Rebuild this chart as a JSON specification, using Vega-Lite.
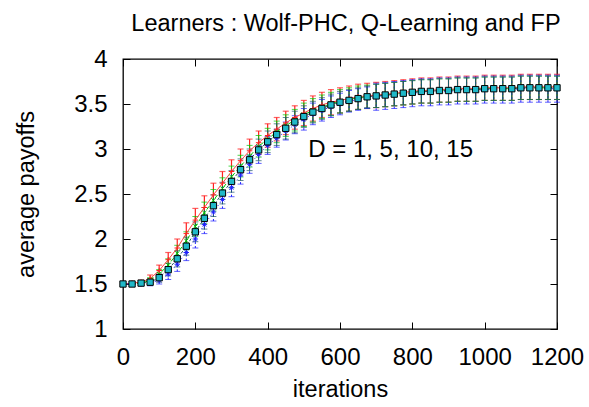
{
  "$schema": "https://vega.github.io/schema/vega-lite/v6.json",
  "width": 434,
  "height": 270,
  "autosize": {"type": "none"},
  "padding": {"left": 123, "top": 59, "right": 32, "bottom": 78},
  "background": "white",
  "title": {"text": "Learners : Wolf-PHC, Q-Learning and FP", "fontSize": 23.5, "font": "Liberation Sans", "fontWeight": "normal", "color": "black", "offset": 12, "dx": 6},
  "config": {
    "view": {"stroke": "black", "strokeWidth": 1.3},
    "axis": {"grid": false, "domain": false, "labelFont": "Liberation Sans", "labelFontSize": 24, "labelColor": "black", "titleFont": "Liberation Sans", "titleFontSize": 23.5, "titleFontWeight": "normal", "titleColor": "black", "tickColor": "black", "tickSize": -7, "tickWidth": 1}
  },
  "data": {"values": [
    {"s":"r","x":0,"m":1.50,"e":0.01},{"s":"r","x":25,"m":1.51,"e":0.01},{"s":"r","x":50,"m":1.52,"e":0.02},{"s":"r","x":75,"m":1.56,"e":0.04},{"s":"r","x":100,"m":1.65,"e":0.06},{"s":"r","x":125,"m":1.77,"e":0.08},{"s":"r","x":150,"m":1.90,"e":0.10},{"s":"r","x":175,"m":2.06,"e":0.12},{"s":"r","x":200,"m":2.21,"e":0.13},{"s":"r","x":225,"m":2.35,"e":0.13},
    {"s":"r","x":250,"m":2.49,"e":0.13},{"s":"r","x":275,"m":2.62,"e":0.13},{"s":"r","x":300,"m":2.75,"e":0.13},{"s":"r","x":325,"m":2.87,"e":0.13},{"s":"r","x":350,"m":2.98,"e":0.13},{"s":"r","x":375,"m":3.07,"e":0.13},{"s":"r","x":400,"m":3.15,"e":0.13},{"s":"r","x":425,"m":3.22,"e":0.13},{"s":"r","x":450,"m":3.29,"e":0.13},{"s":"r","x":475,"m":3.35,"e":0.13},
    {"s":"r","x":500,"m":3.40,"e":0.14},{"s":"r","x":525,"m":3.45,"e":0.14},{"s":"r","x":550,"m":3.49,"e":0.14},{"s":"r","x":575,"m":3.52,"e":0.14},{"s":"r","x":600,"m":3.54,"e":0.14},{"s":"r","x":625,"m":3.56,"e":0.14},{"s":"r","x":650,"m":3.58,"e":0.14},{"s":"r","x":675,"m":3.59,"e":0.14},{"s":"r","x":700,"m":3.60,"e":0.14},{"s":"r","x":725,"m":3.61,"e":0.14},
    {"s":"r","x":750,"m":3.62,"e":0.14},{"s":"r","x":775,"m":3.63,"e":0.14},{"s":"r","x":800,"m":3.64,"e":0.14},{"s":"r","x":825,"m":3.65,"e":0.14},{"s":"r","x":850,"m":3.65,"e":0.14},{"s":"r","x":875,"m":3.66,"e":0.14},{"s":"r","x":900,"m":3.66,"e":0.14},{"s":"r","x":925,"m":3.67,"e":0.14},{"s":"r","x":950,"m":3.67,"e":0.14},{"s":"r","x":975,"m":3.67,"e":0.14},
    {"s":"r","x":1000,"m":3.68,"e":0.14},{"s":"r","x":1025,"m":3.68,"e":0.14},{"s":"r","x":1050,"m":3.68,"e":0.14},{"s":"r","x":1075,"m":3.68,"e":0.14},{"s":"r","x":1100,"m":3.69,"e":0.14},{"s":"r","x":1125,"m":3.69,"e":0.14},{"s":"r","x":1150,"m":3.69,"e":0.14},{"s":"r","x":1175,"m":3.69,"e":0.14},{"s":"r","x":1200,"m":3.69,"e":0.14},

    {"s":"g","x":0,"m":1.50,"e":0.01},{"s":"g","x":25,"m":1.50,"e":0.01},{"s":"g","x":50,"m":1.51,"e":0.02},{"s":"g","x":75,"m":1.54,"e":0.03},{"s":"g","x":100,"m":1.61,"e":0.05},{"s":"g","x":125,"m":1.71,"e":0.07},{"s":"g","x":150,"m":1.84,"e":0.09},{"s":"g","x":175,"m":1.98,"e":0.10},{"s":"g","x":200,"m":2.14,"e":0.11},{"s":"g","x":225,"m":2.29,"e":0.12},
    {"s":"g","x":250,"m":2.43,"e":0.12},{"s":"g","x":275,"m":2.56,"e":0.12},{"s":"g","x":300,"m":2.69,"e":0.12},{"s":"g","x":325,"m":2.81,"e":0.12},{"s":"g","x":350,"m":2.92,"e":0.12},{"s":"g","x":375,"m":3.03,"e":0.12},{"s":"g","x":400,"m":3.11,"e":0.12},{"s":"g","x":425,"m":3.19,"e":0.12},{"s":"g","x":450,"m":3.26,"e":0.12},{"s":"g","x":475,"m":3.32,"e":0.12},
    {"s":"g","x":500,"m":3.38,"e":0.13},{"s":"g","x":525,"m":3.43,"e":0.13},{"s":"g","x":550,"m":3.47,"e":0.13},{"s":"g","x":575,"m":3.50,"e":0.13},{"s":"g","x":600,"m":3.53,"e":0.13},{"s":"g","x":625,"m":3.55,"e":0.13},{"s":"g","x":650,"m":3.57,"e":0.13},{"s":"g","x":675,"m":3.58,"e":0.13},{"s":"g","x":700,"m":3.59,"e":0.13},{"s":"g","x":725,"m":3.60,"e":0.13},
    {"s":"g","x":750,"m":3.61,"e":0.13},{"s":"g","x":775,"m":3.62,"e":0.13},{"s":"g","x":800,"m":3.63,"e":0.13},{"s":"g","x":825,"m":3.64,"e":0.13},{"s":"g","x":850,"m":3.64,"e":0.13},{"s":"g","x":875,"m":3.65,"e":0.13},{"s":"g","x":900,"m":3.65,"e":0.13},{"s":"g","x":925,"m":3.66,"e":0.13},{"s":"g","x":950,"m":3.66,"e":0.13},{"s":"g","x":975,"m":3.66,"e":0.13},
    {"s":"g","x":1000,"m":3.67,"e":0.13},{"s":"g","x":1025,"m":3.67,"e":0.13},{"s":"g","x":1050,"m":3.67,"e":0.13},{"s":"g","x":1075,"m":3.67,"e":0.13},{"s":"g","x":1100,"m":3.68,"e":0.13},{"s":"g","x":1125,"m":3.68,"e":0.13},{"s":"g","x":1150,"m":3.68,"e":0.13},{"s":"g","x":1175,"m":3.68,"e":0.13},{"s":"g","x":1200,"m":3.68,"e":0.13},

    {"s":"b","x":0,"m":1.50,"e":0.01},{"s":"b","x":25,"m":1.50,"e":0.01},{"s":"b","x":50,"m":1.50,"e":0.02},{"s":"b","x":75,"m":1.51,"e":0.03},{"s":"b","x":100,"m":1.54,"e":0.04},{"s":"b","x":125,"m":1.61,"e":0.06},{"s":"b","x":150,"m":1.72,"e":0.08},{"s":"b","x":175,"m":1.85,"e":0.09},{"s":"b","x":200,"m":2.00,"e":0.10},{"s":"b","x":225,"m":2.16,"e":0.10},
    {"s":"b","x":250,"m":2.30,"e":0.10},{"s":"b","x":275,"m":2.44,"e":0.10},{"s":"b","x":300,"m":2.57,"e":0.10},{"s":"b","x":325,"m":2.71,"e":0.10},{"s":"b","x":350,"m":2.83,"e":0.10},{"s":"b","x":375,"m":2.94,"e":0.10},{"s":"b","x":400,"m":3.04,"e":0.10},{"s":"b","x":425,"m":3.12,"e":0.10},{"s":"b","x":450,"m":3.20,"e":0.10},{"s":"b","x":475,"m":3.27,"e":0.10},
    {"s":"b","x":500,"m":3.33,"e":0.12},{"s":"b","x":525,"m":3.39,"e":0.12},{"s":"b","x":550,"m":3.43,"e":0.12},{"s":"b","x":575,"m":3.47,"e":0.12},{"s":"b","x":600,"m":3.50,"e":0.12},{"s":"b","x":625,"m":3.53,"e":0.12},{"s":"b","x":650,"m":3.55,"e":0.12},{"s":"b","x":675,"m":3.57,"e":0.12},{"s":"b","x":700,"m":3.58,"e":0.15},{"s":"b","x":725,"m":3.59,"e":0.15},
    {"s":"b","x":750,"m":3.60,"e":0.15},{"s":"b","x":775,"m":3.61,"e":0.15},{"s":"b","x":800,"m":3.62,"e":0.15},{"s":"b","x":825,"m":3.63,"e":0.15},{"s":"b","x":850,"m":3.63,"e":0.15},{"s":"b","x":875,"m":3.64,"e":0.15},{"s":"b","x":900,"m":3.64,"e":0.15},{"s":"b","x":925,"m":3.65,"e":0.15},{"s":"b","x":950,"m":3.65,"e":0.15},{"s":"b","x":975,"m":3.65,"e":0.15},
    {"s":"b","x":1000,"m":3.66,"e":0.15},{"s":"b","x":1025,"m":3.66,"e":0.15},{"s":"b","x":1050,"m":3.66,"e":0.15},{"s":"b","x":1075,"m":3.66,"e":0.15},{"s":"b","x":1100,"m":3.67,"e":0.15},{"s":"b","x":1125,"m":3.67,"e":0.15},{"s":"b","x":1150,"m":3.67,"e":0.15},{"s":"b","x":1175,"m":3.67,"e":0.15},{"s":"b","x":1200,"m":3.67,"e":0.15},

    {"s":"c","x":0,"m":1.50,"e":0.01},{"s":"c","x":25,"m":1.50,"e":0.01},{"s":"c","x":50,"m":1.51,"e":0.02},{"s":"c","x":75,"m":1.52,"e":0.03},{"s":"c","x":100,"m":1.57,"e":0.05},{"s":"c","x":125,"m":1.66,"e":0.07},{"s":"c","x":150,"m":1.78,"e":0.09},{"s":"c","x":175,"m":1.92,"e":0.10},{"s":"c","x":200,"m":2.08,"e":0.11},{"s":"c","x":225,"m":2.23,"e":0.12},
    {"s":"c","x":250,"m":2.37,"e":0.12},{"s":"c","x":275,"m":2.51,"e":0.12},{"s":"c","x":300,"m":2.64,"e":0.12},{"s":"c","x":325,"m":2.77,"e":0.12},{"s":"c","x":350,"m":2.88,"e":0.12},{"s":"c","x":375,"m":2.99,"e":0.12},{"s":"c","x":400,"m":3.08,"e":0.12},{"s":"c","x":425,"m":3.16,"e":0.12},{"s":"c","x":450,"m":3.23,"e":0.12},{"s":"c","x":475,"m":3.30,"e":0.12},
    {"s":"c","x":500,"m":3.36,"e":0.12},{"s":"c","x":525,"m":3.41,"e":0.12},{"s":"c","x":550,"m":3.45,"e":0.12},{"s":"c","x":575,"m":3.49,"e":0.12},{"s":"c","x":600,"m":3.52,"e":0.12},{"s":"c","x":625,"m":3.54,"e":0.12},{"s":"c","x":650,"m":3.56,"e":0.12},{"s":"c","x":675,"m":3.58,"e":0.12},{"s":"c","x":700,"m":3.59,"e":0.13},{"s":"c","x":725,"m":3.60,"e":0.13},
    {"s":"c","x":750,"m":3.61,"e":0.13},{"s":"c","x":775,"m":3.62,"e":0.13},{"s":"c","x":800,"m":3.63,"e":0.13},{"s":"c","x":825,"m":3.64,"e":0.13},{"s":"c","x":850,"m":3.64,"e":0.13},{"s":"c","x":875,"m":3.65,"e":0.13},{"s":"c","x":900,"m":3.65,"e":0.13},{"s":"c","x":925,"m":3.66,"e":0.13},{"s":"c","x":950,"m":3.66,"e":0.13},{"s":"c","x":975,"m":3.66,"e":0.13},
    {"s":"c","x":1000,"m":3.67,"e":0.13},{"s":"c","x":1025,"m":3.67,"e":0.13},{"s":"c","x":1050,"m":3.67,"e":0.13},{"s":"c","x":1075,"m":3.67,"e":0.13},{"s":"c","x":1100,"m":3.68,"e":0.13},{"s":"c","x":1125,"m":3.68,"e":0.13},{"s":"c","x":1150,"m":3.68,"e":0.13},{"s":"c","x":1175,"m":3.68,"e":0.13},{"s":"c","x":1200,"m":3.68,"e":0.13}
  ]},
  "resolve": {"axis": {"x": "independent", "y": "independent"}},
  "layer": [
    {
      "transform": [{"filter": {"field": "s", "equal": "r"}}],
      "mark": {"type": "errorbar", "ticks": {"size": 6}, "thickness": 1.2},
      "encoding": {
        "x": {"field": "x", "type": "quantitative", "scale": {"domain": [0, 1200], "nice": false},
              "axis": {"orient": "bottom", "values": [0, 200, 400, 600, 800, 1000, 1200], "format": "d", "title": "iterations", "labelPadding": 23, "titlePadding": 8, "labelFlush": false}},
        "y": {"field": "m", "type": "quantitative", "scale": {"domain": [1, 4], "nice": false, "zero": false},
              "axis": {"orient": "left", "values": [1, 1.5, 2, 2.5, 3, 3.5, 4], "format": "~g", "title": "average payoffs", "labelPadding": 23, "titlePadding": 35, "labelFlush": false}},
        "yError": {"field": "e"},
        "color": {"field": "s", "type": "nominal", "scale": {"domain": ["r", "g", "b", "c"], "range": ["#ff2020", "#00c800", "#2020ff", "#1f5a66"]}, "legend": null}
      }
    },
    {
      "transform": [{"filter": {"field": "s", "equal": "g"}}],
      "mark": {"type": "errorbar", "ticks": {"size": 6}, "thickness": 1},
      "encoding": {
        "x": {"field": "x", "type": "quantitative", "axis": null},
        "y": {"field": "m", "type": "quantitative", "axis": null},
        "yError": {"field": "e"},
        "color": {"field": "s", "type": "nominal", "legend": null}
      }
    },
    {
      "transform": [{"filter": {"field": "s", "equal": "b"}}],
      "mark": {"type": "errorbar", "ticks": {"size": 6, "strokeDash": [2, 2]}, "rule": {"strokeDash": [2, 2]}, "thickness": 1},
      "encoding": {
        "x": {"field": "x", "type": "quantitative", "axis": null},
        "y": {"field": "m", "type": "quantitative", "axis": null},
        "yError": {"field": "e"},
        "color": {"field": "s", "type": "nominal", "legend": null}
      }
    },
    {
      "transform": [{"filter": {"field": "s", "equal": "c"}}],
      "mark": {"type": "errorbar", "ticks": {"size": 6}, "thickness": 1},
      "encoding": {
        "x": {"field": "x", "type": "quantitative", "axis": null},
        "y": {"field": "m", "type": "quantitative", "axis": null},
        "yError": {"field": "e"},
        "color": {"field": "s", "type": "nominal", "legend": null}
      }
    },
    {
      "mark": {"type": "line", "strokeWidth": 1},
      "encoding": {
        "x": {"field": "x", "type": "quantitative", "axis": null},
        "y": {"field": "m", "type": "quantitative", "axis": null},
        "color": {"field": "s", "type": "nominal", "scale": {"domain": ["r", "g", "b", "c"], "range": ["#ff2020", "#00c800", "#2020ff", "#20b8c8"]}, "legend": null},
        "strokeDash": {"field": "s", "type": "nominal", "scale": {"domain": ["r", "g", "b", "c"], "range": [[1, 0], [4, 3], [1, 3], [3, 2]]}, "legend": null}
      }
    },
    {
      "transform": [{"filter": {"field": "s", "oneOf": ["r", "g", "b"]}}],
      "mark": {"type": "point", "filled": false, "strokeWidth": 1, "size": 30, "opacity": 1},
      "encoding": {
        "x": {"field": "x", "type": "quantitative", "axis": null},
        "y": {"field": "m", "type": "quantitative", "axis": null},
        "color": {"field": "s", "type": "nominal", "legend": null},
        "shape": {"field": "s", "type": "nominal", "scale": {"domain": ["r", "g", "b"], "range": ["M-1,0L1,0M0,-1L0,1", "M-0.8,-0.8L0.8,0.8M-0.8,0.8L0.8,-0.8", "M-1,0L1,0M0,-1L0,1M-0.7,-0.7L0.7,0.7M-0.7,0.7L0.7,-0.7"]}, "legend": null}
      }
    },
    {
      "transform": [{"filter": {"field": "s", "equal": "c"}}],
      "mark": {"type": "point", "shape": "square", "filled": true, "fill": "#20b8c8", "stroke": "black", "strokeWidth": 1, "size": 40, "opacity": 1},
      "encoding": {
        "x": {"field": "x", "type": "quantitative", "axis": null},
        "y": {"field": "m", "type": "quantitative", "axis": null}
      }
    },
    {
      "data": {"values": [{"label": "D = 1, 5, 10, 15", "x": 740, "y": 2.91}]},
      "mark": {"type": "text", "font": "Liberation Sans", "fontSize": 24, "align": "center", "baseline": "alphabetic", "color": "black"},
      "encoding": {
        "x": {"field": "x", "type": "quantitative", "axis": {"orient": "top", "values": [0, 200, 400, 600, 800, 1000, 1200], "labels": false, "title": null}},
        "y": {"field": "y", "type": "quantitative", "axis": {"orient": "right", "values": [1, 1.5, 2, 2.5, 3, 3.5, 4], "labels": false, "title": null}},
        "text": {"field": "label"}
      }
    }
  ]
}
